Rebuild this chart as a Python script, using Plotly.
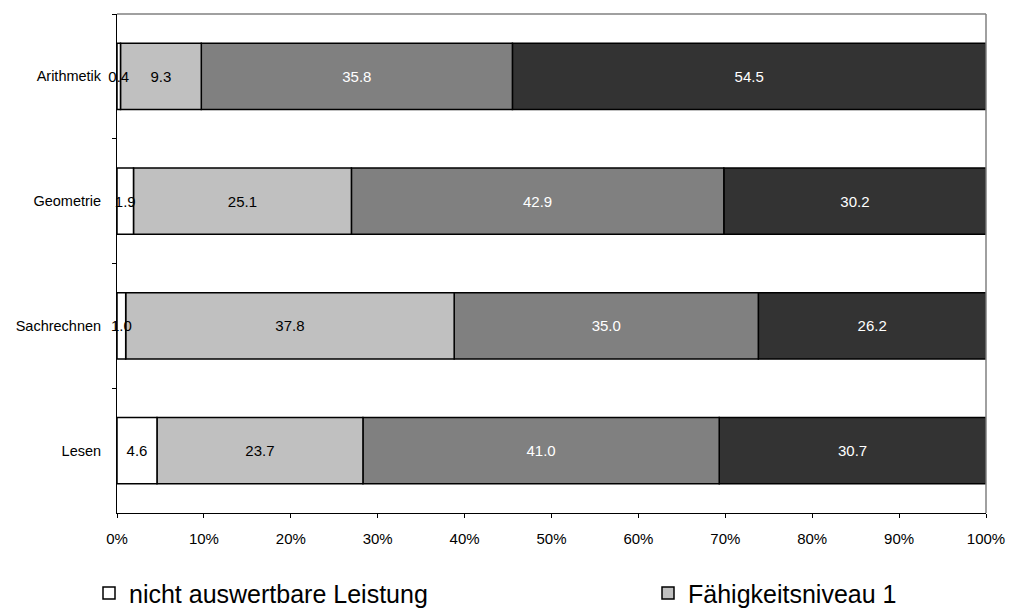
import plotly.graph_objects as go

categories = ["Arithmetik", "Geometrie", "Sachrechnen", "Lesen"]
series_names = ["nicht auswertbare Leistung", "Fähigkeitsniveau 1",
                "Fähigkeitsniveau 2", "Fähigkeitsniveau 3"]
nicht_auswertbar = [0.4, 1.9, 1.0, 4.6]
niveau_1 = [9.3, 25.1, 37.8, 23.7]
niveau_2 = [35.8, 42.9, 35.0, 41.0]
niveau_3 = [54.5, 30.2, 26.2, 30.7]
tick_values = [0, 10, 20, 30, 40, 50, 60, 70, 80, 90, 100]
tick_labels = ["0%", "10%", "20%", "30%", "40%", "50%", "60%", "70%", "80%", "90%", "100%"]

series = [nicht_auswertbar, niveau_1, niveau_2, niveau_3]
fill_colors = ["#FFFFFF", "#C0C0C0", "#808080", "#333333"]
text_colors = ["#000000", "#000000", "#FFFFFF", "#FFFFFF"]
legend_ids = ["legend", "legend2", "legend", "legend"]
show_in_legend = [True, True, False, False]

FONT = "Liberation Sans, Arial, sans-serif"

# 100 % stacking: normalise each category to its total, then stack
totals = [sum(col) for col in zip(*series)]
shares = [[v / t * 100 for v, t in zip(vals, totals)] for vals in series]
bases = []
running = [0.0] * len(categories)
for vals in shares:
    bases.append(list(running))
    running = [r + v for r, v in zip(running, vals)]

fig = go.Figure()
# draw from the last segment to the first so the labels of the thin
# left segments stay on top of the neighbouring bars
for i in reversed(range(len(series))):
    fig.add_trace(go.Bar(
        y=categories, x=shares[i], base=bases[i], name=series_names[i],
        orientation="h",
        marker=dict(color=fill_colors[i], line=dict(color="#000000", width=1.5)),
        text=series[i], texttemplate="%{text:.1f}", textposition="inside",
        insidetextanchor="middle", textangle=0, cliponaxis=False,
        textfont=dict(family=FONT, size=15, color=text_colors[i]),
        showlegend=show_in_legend[i], legend=legend_ids[i],
    ))

legend_common = dict(
    orientation="h", xanchor="left", yanchor="top", y=-0.1145,
    font=dict(family=FONT, size=25, color="#000000"),
    bgcolor="rgba(0,0,0,0)", itemwidth=30,
)

fig.update_layout(
    barmode="overlay",
    bargap=0.47,
    width=1009, height=608,
    margin=dict(l=117, r=23, t=14, b=95, autoexpand=False),
    plot_bgcolor="#FFFFFF", paper_bgcolor="#FFFFFF",
    font=dict(family=FONT, size=15, color="#000000"),
    uniformtext=dict(minsize=15, mode="show"),
    legend=dict(x=(89 - 117) / 869, **legend_common),
    legend2=dict(x=(648 - 117) / 869, **legend_common),
    xaxis=dict(
        range=[0, 100], tickvals=tick_values, ticktext=tick_labels,
        showgrid=False, zeroline=False,
        showline=True, linecolor="#000000", linewidth=1,
        ticks="outside", ticklen=4, tickcolor="#000000",
        ticklabelstandoff=8,
        tickfont=dict(family=FONT, size=15),
    ),
    yaxis=dict(
        autorange="reversed", showgrid=False, zeroline=False,
        showline=True, linecolor="#000000", linewidth=1,
        ticks="outside", ticklen=4, tickcolor="#000000", tickson="boundaries",
        ticklabelstandoff=12,
        tickfont=dict(family=FONT, size=14.5),
    ),
    shapes=[
        dict(type="line", xref="paper", yref="paper", x0=0, x1=1, y0=1, y1=1,
             line=dict(color="#808080", width=1.5)),
        dict(type="line", xref="paper", yref="paper", x0=1, x1=1, y0=0, y1=1,
             line=dict(color="#808080", width=1.5)),
    ],
)

fig.write_html("out.html", config={"displayModeBar": False},
               post_script="document.body.style.margin='0';")
